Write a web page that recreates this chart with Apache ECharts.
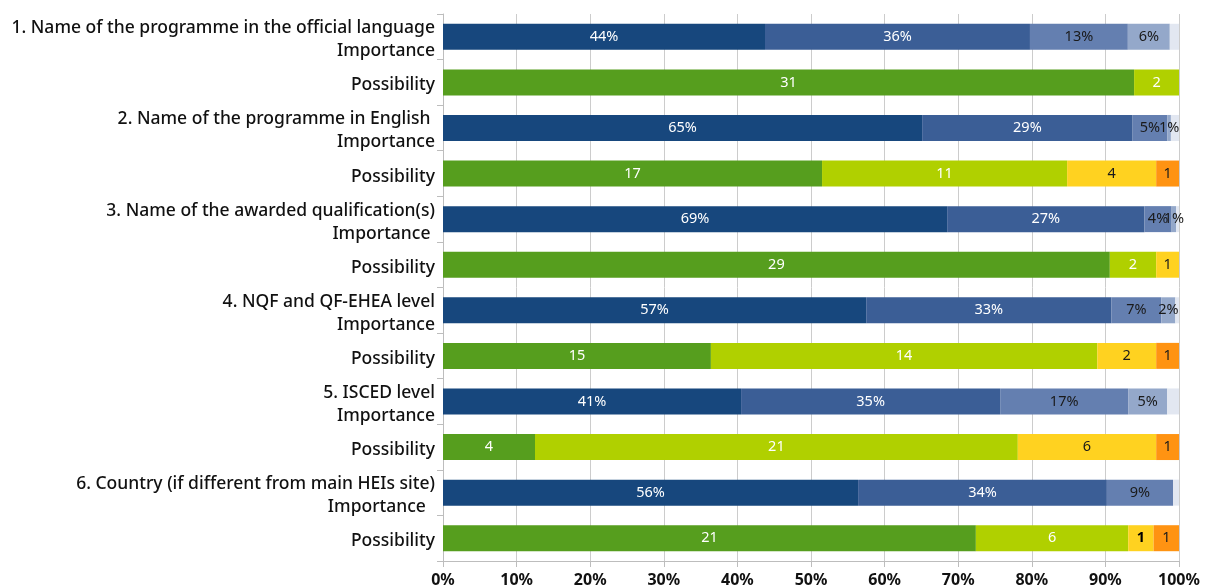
<!DOCTYPE html>
<html>
<head>
<meta charset="utf-8">
<script src="https://cdn.jsdelivr.net/npm/echarts@6/dist/echarts.min.js"></script>
<style>html,body{margin:0;padding:0;background:#fff}#c{width:1207px;height:588px}</style>
</head>
<body>
<div id="c"></div>
<script>
const categories = [
  "1. Name of the programme in the official language\nImportance", "Possibility",
  "2. Name of the programme in English \nImportance", "Possibility",
  "3. Name of the awarded qualification(s)\nImportance ", "Possibility",
  "4. NQF and QF-EHEA level\nImportance", "Possibility",
  "5. ISCED level\nImportance", "Possibility",
  "6. Country (if different from main HEIs site)\nImportance  ", "Possibility"
];
const xTicks = ["0%","10%","20%","30%","40%","50%","60%","70%","80%","90%","100%"];

// Importance shares (% of respondents), one value per criterion
const imp1 = [43.75, 65.1, 68.5, 57.5, 40.5, 56.4];
const imp2 = [36.0, 28.6, 26.8, 33.3, 35.2, 33.8];
const imp3 = [13.3, 4.7, 3.7, 6.8, 17.4, 9.0];
const imp4 = [5.7, 0.5, 0.6, 1.9, 5.3, 0];
const imp5 = [1.25, 1.1, 0.4, 0.5, 1.6, 0.8];
const imp1Lbl = ["44%","65%","69%","57%","41%","56%"];
const imp2Lbl = ["36%","29%","27%","33%","35%","34%"];
const imp3Lbl = ["13%","5%","4%","7%","17%","9%"];
const imp4Lbl = ["6%","1%","1%","2%","5%",""];
const imp5Lbl = ["","","","","",""];

// Possibility shares (%) and respondent counts shown as labels
const pos1 = [93.9, 51.5, 90.6, 36.4, 12.5, 72.4];
const pos2 = [6.1, 33.3, 6.3, 52.5, 65.6, 20.7];
const pos3 = [0, 12.1, 3.1, 8.0, 18.8, 3.45];
const pos4 = [0, 3.1, 0, 3.1, 3.1, 3.45];
const pos1Cnt = [31, 17, 29, 15, 4, 21];
const pos2Cnt = [2, 11, 2, 14, 21, 6];
const pos3Cnt = [0, 4, 1, 2, 6, 1];
const pos4Cnt = [0, 1, 0, 1, 1, 1];

const FONT = "Noto Sans";
function mkSeries(name, vals, lbls, rowOffset, color, lblColor, boldIdx) {
  const data = categories.map(() => '-');
  vals.forEach((v, i) => {
    const item = { value: v > 0 ? v : '-', lbl: String(lbls[i] || '') };
    if (lbls[i] === 0) item.lbl = '';
    if (boldIdx !== undefined && boldIdx === i) item.label = { fontWeight: 'bold', color: '#000' };
    data[i * 2 + rowOffset] = item;
  });
  return {
    name, type: 'bar', stack: 'all', barWidth: 26, data,
    itemStyle: { color },
    label: {
      show: true, position: 'inside', color: lblColor, fontSize: 14.5, fontFamily: FONT,
      formatter: p => (p.data && p.data.lbl) || ''
    },
    emphasis: { disabled: true }
  };
}

const series = [
  mkSeries('imp1', imp1, imp1Lbl, 0, '#17477d', '#ffffff'),
  mkSeries('imp2', imp2, imp2Lbl, 0, '#3b5e96', '#ffffff'),
  mkSeries('imp3', imp3, imp3Lbl, 0, '#647fb0', '#1a1a1a'),
  mkSeries('imp4', imp4, imp4Lbl, 0, '#94a8ca', '#1a1a1a'),
  mkSeries('imp5', imp5, imp5Lbl, 0, '#e2e7f1', '#1a1a1a'),
  mkSeries('pos1', pos1, pos1Cnt, 1, '#569e1e', '#ffffff'),
  mkSeries('pos2', pos2, pos2Cnt, 1, '#b0d000', '#ffffff'),
  mkSeries('pos3', pos3, pos3Cnt, 1, '#ffd220', '#1a1a1a', 5),
  mkSeries('pos4', pos4, pos4Cnt, 1, '#ff9312', '#1a1a1a')
];

const lblStyle = { color: '#111', fontSize: 17.5, fontWeight: 500, fontFamily: FONT, lineHeight: 23, align: 'right' };

const chart = echarts.init(document.getElementById('c'));
chart.setOption({
  animation: false,
  grid: { left: 443, right: 28, top: 14, bottom: 26, containLabel: false },
  xAxis: {
    type: 'value', min: 0, max: 100, interval: 10,
    axisLine: { show: true, lineStyle: { color: '#bdbdbd' } },
    axisTick: { show: true, length: 6, lineStyle: { color: '#bdbdbd' } },
    splitLine: { show: true, lineStyle: { color: '#cccccc', width: 1 } },
    axisLabel: {
      color: '#111', fontSize: 16, fontWeight: 'bold', fontFamily: FONT, margin: 11,
      formatter: v => xTicks[Math.round(v / 10)]
    }
  },
  yAxis: {
    type: 'category', inverse: true, data: categories,
    axisLine: { show: true, lineStyle: { color: '#bdbdbd' } },
    axisTick: { show: true, length: 6, lineStyle: { color: '#bdbdbd' } },
    axisLabel: Object.assign({}, lblStyle, {
      margin: 8,
      formatter: v => v.split('\n').map(l => '{p|' + l + '}').join('\n'),
      rich: {
        p: Object.assign({}, lblStyle, { padding: [6, 0, 0, 0] })
      }
    })
  },
  series
});
</script>
</body>
</html>
